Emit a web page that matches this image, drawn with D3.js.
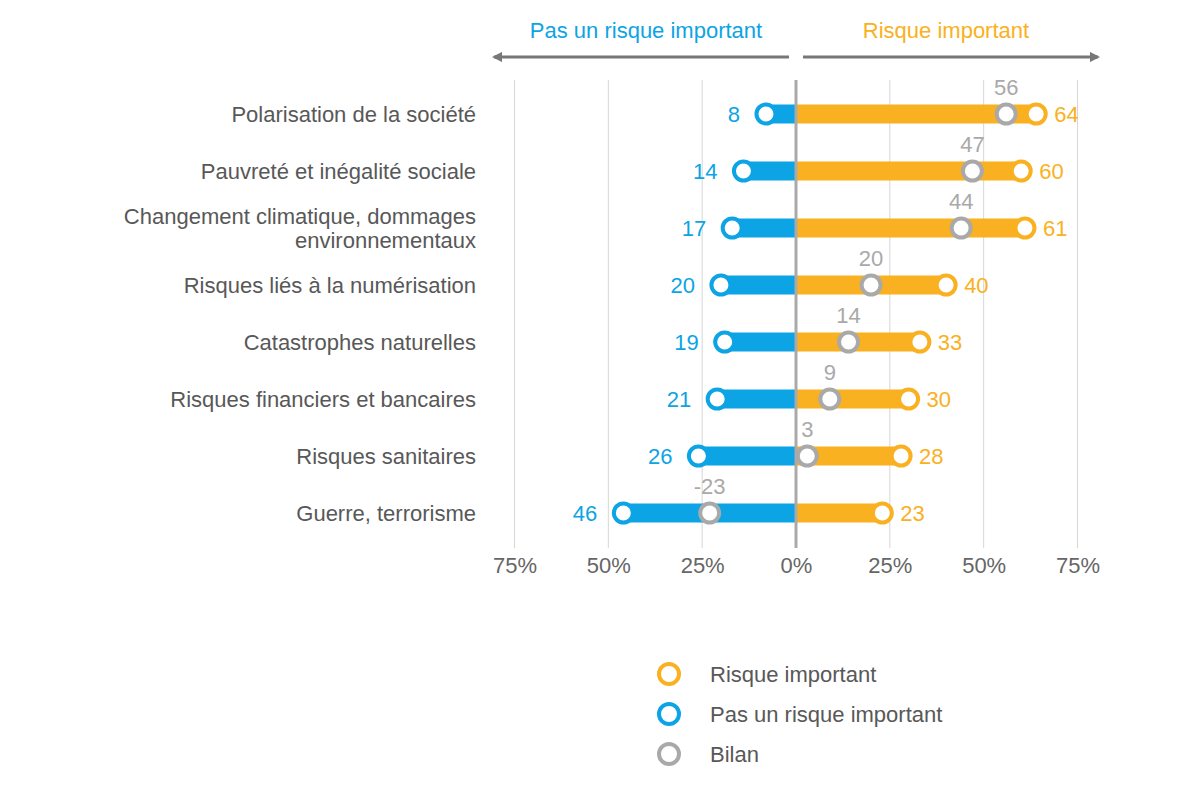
<!DOCTYPE html>
<html>
<head>
<meta charset="utf-8">
<script src="https://cdn.jsdelivr.net/npm/d3@7"></script>
<style>
  body { margin: 0; background: #fff; }
  text { font-family: "Liberation Sans", Arial, sans-serif; }
</style>
</head>
<body>
<div id="container"></div>
<script>
// data
var categories = [
  ["Polarisation de la société"],
  ["Pauvreté et inégalité sociale"],
  ["Changement climatique, dommages", "environnementaux"],
  ["Risques liés à la numérisation"],
  ["Catastrophes naturelles"],
  ["Risques financiers et bancaires"],
  ["Risques sanitaires"],
  ["Guerre, terrorisme"]
];
var important = [64, 60, 61, 40, 33, 30, 28, 23];
var notImportant = [8, 14, 17, 20, 19, 21, 26, 46];
var bilan = [56, 47, 44, 20, 14, 9, 3, -23];
var tickValues = [-75, -50, -25, 0, 25, 50, 75];
var legendItems = ["Risque important", "Pas un risque important", "Bilan"];

var blue = "#0ca4e4", orange = "#f9b121", grey = "#a9a9a9";
var fs = 22;

var width = 1200, height = 800;
var svg = d3.select("#container").append("svg")
  .attr("width", width).attr("height", height);

var x = d3.scaleLinear().domain([-75, 75]).range([514.5, 1077.5]);
var y = d3.scaleBand().domain(d3.range(categories.length))
  .range([85.5, 541.5]).paddingInner(0);

var gridTop = 80, gridBottom = 548;

// grid lines
svg.append("g").selectAll("line")
  .data(tickValues.filter(function(d) { return d !== 0; }))
  .enter().append("line")
  .attr("x1", function(d) { return x(d); })
  .attr("x2", function(d) { return x(d); })
  .attr("y1", gridTop).attr("y2", gridBottom)
  .attr("stroke", "#d6d6d6").attr("stroke-width", 1);

// axis labels
var axis = svg.append("g")
  .attr("transform", "translate(0," + gridBottom + ")")
  .call(d3.axisBottom(x).tickValues(tickValues).tickSize(0).tickPadding(9)
    .tickFormat(function(d) { return Math.abs(d) + "%"; }));
axis.select(".domain").remove();
axis.selectAll("text")
  .attr("font-size", fs).attr("fill", "#666")
  .style("font-family", "Liberation Sans, Arial, sans-serif");

var cy = function(i) { return y(i) + y.bandwidth() / 2; };
var barH = 19;

// bars
svg.append("g").selectAll("rect")
  .data(notImportant).enter().append("rect")
  .attr("x", function(d) { return x(-d); })
  .attr("width", function(d) { return x(0) - x(-d); })
  .attr("y", function(d, i) { return cy(i) - barH / 2; })
  .attr("height", barH).attr("fill", blue);

svg.append("g").selectAll("rect")
  .data(important).enter().append("rect")
  .attr("x", x(0))
  .attr("width", function(d) { return x(d) - x(0); })
  .attr("y", function(d, i) { return cy(i) - barH / 2; })
  .attr("height", barH).attr("fill", orange);

// zero line
svg.append("line")
  .attr("x1", x(0)).attr("x2", x(0))
  .attr("y1", gridTop).attr("y2", gridBottom)
  .attr("stroke", "#aaa").attr("stroke-width", 3);

// circles
function dots(data, sign, color) {
  svg.append("g").selectAll("circle")
    .data(data).enter().append("circle")
    .attr("cx", function(d) { return x(sign * d); })
    .attr("cy", function(d, i) { return cy(i); })
    .attr("r", 9.5)
    .attr("fill", "#fff").attr("stroke", color).attr("stroke-width", 4);
}
dots(bilan, 1, grey);
dots(notImportant, -1, blue);
dots(important, 1, orange);

// value labels
svg.append("g").selectAll("text")
  .data(notImportant).enter().append("text")
  .attr("x", function(d) { return x(-d) - 26; })
  .attr("y", function(d, i) { return cy(i); })
  .attr("dy", "0.35em").attr("text-anchor", "end")
  .attr("font-size", fs).attr("fill", blue)
  .text(function(d) { return d; });

svg.append("g").selectAll("text")
  .data(important).enter().append("text")
  .attr("x", function(d) { return x(d) + 18; })
  .attr("y", function(d, i) { return cy(i); })
  .attr("dy", "0.35em").attr("text-anchor", "start")
  .attr("font-size", fs).attr("fill", orange)
  .text(function(d) { return d; });

svg.append("g").selectAll("text")
  .data(bilan).enter().append("text")
  .attr("x", function(d) { return x(d); })
  .attr("y", function(d, i) { return cy(i) - 27; })
  .attr("dy", "0.35em").attr("text-anchor", "middle")
  .attr("font-size", fs).attr("fill", grey)
  .text(function(d) { return d; });

// category labels
svg.append("g").selectAll("text")
  .data(categories).enter().append("text")
  .attr("text-anchor", "end")
  .attr("font-size", fs).attr("fill", "#585858")
  .attr("y", function(d, i) { return cy(i) - (d.length - 1) * 12; })
  .each(function(d) {
    var t = d3.select(this);
    d.forEach(function(line, k) {
      t.append("tspan").attr("x", 476).attr("dy", k === 0 ? "0.35em" : 24).text(line);
    });
  });

// header arrows
var defs = svg.append("defs");
defs.append("marker").attr("id", "arrow")
  .attr("viewBox", "0 0 10 10").attr("refX", 8).attr("refY", 5)
  .attr("markerWidth", 3.5).attr("markerHeight", 3.5).attr("orient", "auto-start-reverse")
  .append("path").attr("d", "M0,0 L10,5 L0,10 Z").attr("fill", "#777");

svg.append("line")
  .attr("x1", x(0) - 7).attr("x2", 494).attr("y1", 57).attr("y2", 57)
  .attr("stroke", "#777").attr("stroke-width", 3).attr("marker-end", "url(#arrow)");
svg.append("line")
  .attr("x1", x(0) + 7).attr("x2", 1098).attr("y1", 57).attr("y2", 57)
  .attr("stroke", "#777").attr("stroke-width", 3).attr("marker-end", "url(#arrow)");

svg.append("text").attr("x", 646).attr("y", 30).attr("dy", "0.35em")
  .attr("text-anchor", "middle").attr("font-size", fs).attr("fill", blue)
  .text("Pas un risque important");
svg.append("text").attr("x", 946).attr("y", 30).attr("dy", "0.35em")
  .attr("text-anchor", "middle").attr("font-size", fs).attr("fill", orange)
  .text("Risque important");

// legend
var legendColors = [orange, blue, grey];
var lg = svg.append("g").selectAll("g")
  .data(legendItems).enter().append("g")
  .attr("transform", function(d, i) { return "translate(669," + (674 + i * 40) + ")"; });
lg.append("circle").attr("r", 10).attr("fill", "#fff")
  .attr("stroke", function(d, i) { return legendColors[i]; }).attr("stroke-width", 4);
lg.append("text").attr("x", 41).attr("dy", "0.35em")
  .attr("font-size", fs).attr("fill", "#585858")
  .text(function(d) { return d; });
</script>
</body>
</html>
